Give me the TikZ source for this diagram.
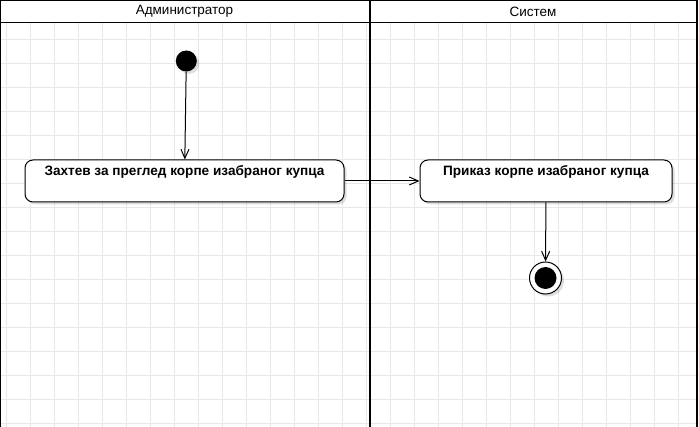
\documentclass[tikz,border=0pt]{standalone}
\usepackage{fontspec}
\setmainfont{Liberation Sans}
\usetikzlibrary{arrows.meta,shadows}
\definecolor{gridcol}{RGB}{232,232,232}
\begin{document}
\begin{tikzpicture}[x=1pt,y=-1pt,
  lane/.style={draw=black, line width=2pt},
  gridline/.style={draw=gridcol, line width=0.9pt},
  shadowed/.style={drop shadow={shadow xshift=2.5pt, shadow yshift=-2.5pt, fill=black, opacity=0.13}},
  act/.style={draw, rounded corners=8pt, fill=white, line width=1pt, shadowed,
    font=\bfseries\fontsize{13.6}{16}\selectfont, text height=12pt, text depth=22pt,
    inner ysep=4pt, inner xsep=0pt, minimum height=42pt},
  startnode/.style={circle, fill=black, minimum size=21pt, inner sep=0pt, shadowed},
  endouter/.style={circle, draw, line width=1pt, fill=white, minimum size=32pt, inner sep=0pt, shadowed},
  endinner/.style={circle, fill=black, minimum size=22pt, inner sep=0pt},
  head/.style={font=\fontsize{13.5}{16}\selectfont, inner sep=0pt},
  arr/.style={draw, line width=1pt, -{Straight Barb[length=9pt,width=8pt,line width=1pt]}}
]
\useasboundingbox (0,0) rectangle (699,427);
\fill[white] (0,0) rectangle (699,427);
% grid
\foreach \gx in {6.5,30.5,...,696.5} \draw[gridline] (\gx,23) -- (\gx,427);
\foreach \gy in {39.5,63.5,...,423.5} \draw[gridline] (0,\gy) -- (699,\gy);
% swimlanes
\draw[lane] (0,440) -- (0,0) -- (697,0) -- (697,440);
\draw[lane] (369.5,0) -- (369.5,440);
\draw[line width=1.6pt] (0,22.5) -- (697,22.5);
\node[head] (h1) at (184.5,11.5) {Администратор};
\node[head] (h2) at (533,11.5) {Систем};
% nodes
\node[startnode] (start) at (186.3,61) {};
\node[act, minimum width=319pt] (a1) at (184.5,181) {Захтев за преглед корпе изабраног купца};
\node[act, minimum width=252pt] (a2) at (546,181) {Приказ корпе изабраног купца};
\node[endouter] (endo) at (545.5,278) {};
\node[endinner] (endi) at (545.5,278) {};
% connectors
\draw[arr] (start) -- (a1);
\draw[arr] (a1) -- (a2);
\draw[arr] (a2) -- (endo);
\end{tikzpicture}
\end{document}
